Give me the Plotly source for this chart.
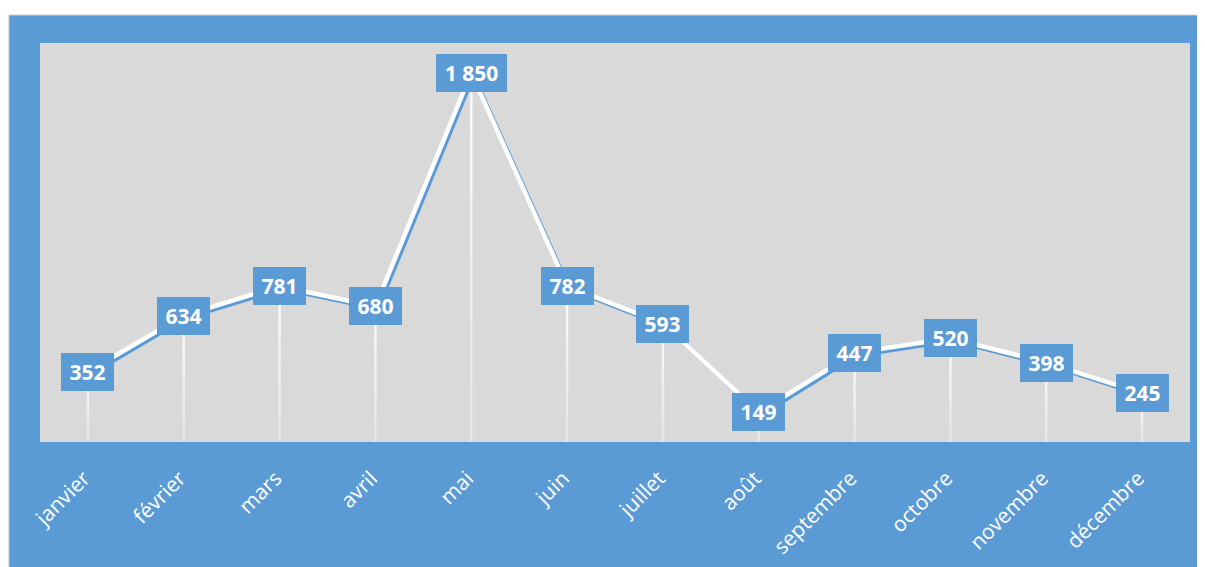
import plotly.graph_objects as go

months = ["janvier", "février", "mars", "avril", "mai", "juin", "juillet",
          "août", "septembre", "octobre", "novembre", "décembre"]
values = [352, 634, 781, 680, 1850, 782, 593, 149, 447, 520, 398, 245]

BLUE = "#5B9BD5"
GRAY = "#D9D9D9"
Y_RANGE = [0, 2000]
X_RANGE = [-0.5, 11.5]

fig = go.Figure()

# drop lines (fading toward the bottom)
n_seg = 6
for k in range(n_seg):
    f_top = 1 - k / n_seg
    f_bot = 1 - (k + 1) / n_seg
    xs, ys = [], []
    for m, v in zip(months, values):
        xs += [m, m, None]
        ys += [v * f_top, v * f_bot, None]
    op = 0.85 - 0.1 * k
    fig.add_trace(go.Scatter(x=xs, y=ys, mode="lines",
                             line=dict(color=f"rgba(255,255,255,{op:.2f})", width=2.5),
                             hoverinfo="skip", showlegend=False))

# shadow line (slightly offset axes)
fig.add_trace(go.Scatter(x=months, y=values, mode="lines", xaxis="x2", yaxis="y2",
                         line=dict(color=BLUE, width=4), hoverinfo="skip", showlegend=False))
# main white line
fig.add_trace(go.Scatter(x=months, y=values, mode="lines", xaxis="x3", yaxis="y3",
                         line=dict(color="white", width=4.5), showlegend=False))

for m, v in zip(months, values):
    txt = f"{v:,}".replace(",", " ")
    fig.add_annotation(x=m, y=v, text=f"<b>{txt}</b>",
                       showarrow=False, bgcolor=BLUE, borderpad=0, borderwidth=0,
                       width=26 + 9 * len(txt), height=38,
                       font=dict(family="Open Sans", size=21, color="white"),
                       xanchor="center", yanchor="middle")

shapes = [
    dict(type="rect", xref="paper", yref="paper", x0=-0.1, x1=1.1, y0=1.0702, y1=1.2,
         fillcolor="white", line=dict(width=0), layer="below"),
    dict(type="rect", xref="paper", yref="paper", x0=-0.1, x1=-0.027, y0=-0.4, y1=1.2,
         fillcolor="white", line=dict(width=0), layer="below"),
    dict(type="rect", xref="paper", yref="paper", x0=-0.027, x1=1.05, y0=-0.4, y1=1.0702,
         fillcolor=BLUE, line=dict(color="#D0D0D0", width=1), layer="below"),
    dict(type="rect", xref="paper", yref="paper", x0=0, x1=1, y0=0, y1=1,
         fillcolor=GRAY, line=dict(width=0), layer="below"),
]

cat = dict(type="category", categoryorder="array", categoryarray=months)

fig.update_layout(
    width=1197, height=559,
    margin=dict(l=32, r=15, t=35, b=125),
    paper_bgcolor=BLUE, plot_bgcolor="rgba(0,0,0,0)",
    shapes=shapes,
    xaxis=dict(**cat, range=X_RANGE, showgrid=False, zeroline=False, showline=False,
               tickangle=-45, ticks="", ticklabelstandoff=19, ticklabelshift=-4,
               automargin=False,
               tickfont=dict(family="Open Sans", size=21, color="white")),
    yaxis=dict(range=Y_RANGE, showgrid=False, zeroline=False, showline=False,
               showticklabels=False, ticks="", automargin=False),
    xaxis2=dict(**cat, overlaying="x", range=[X_RANGE[0] - 0.025, X_RANGE[1] - 0.025],
                visible=False),
    yaxis2=dict(overlaying="y", range=[Y_RANGE[0] + 13, Y_RANGE[1] + 13], visible=False),
    xaxis3=dict(**cat, overlaying="x", range=X_RANGE, visible=False),
    yaxis3=dict(overlaying="y", range=Y_RANGE, visible=False),
    font=dict(family="Open Sans"),
)

fig.write_html("out.html")
